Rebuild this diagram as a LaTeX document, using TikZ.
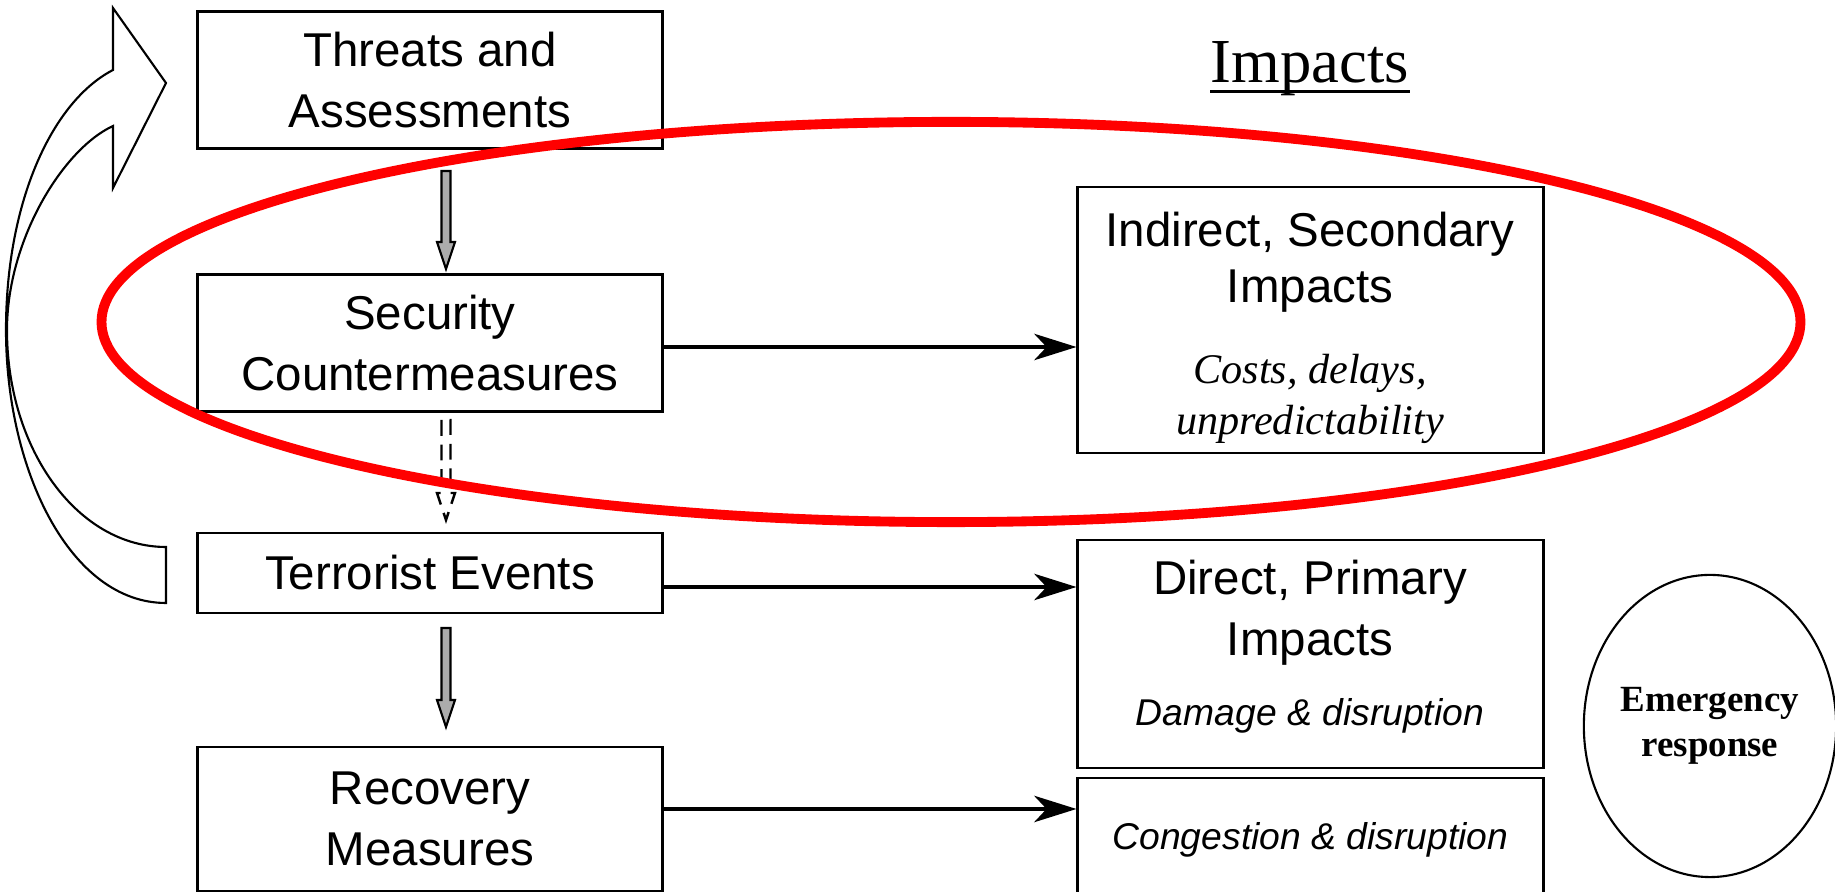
\documentclass[tikz,border=0pt]{standalone}
\usepackage{fontspec}
\setmainfont{Liberation Sans}
\newfontfamily\seriffont{Liberation Serif}
\usetikzlibrary{arrows.meta,calc,shapes.geometric}

% grey block arrow from #2 down to the tip #3
\newcommand{\blockarrow}[3][]{%
  \draw[#1] ($(#2)+(-4.5,0)$) -- ($(#3)+(-4.5,-27)$) -- ($(#3)+(-9,-27)$)
    -- (#3) -- ($(#3)+(9,-27)$) -- ($(#3)+(4.5,-27)$) -- ($(#2)+(4.5,0)$) -- cycle;}

\begin{document}
\begin{tikzpicture}[x=0.01cm,y=-0.01cm,
    box/.style={draw,line width=0.8pt,minimum width=4.64cm,align=center,
      font=\fontsize{13.5}{17.2}\selectfont},
    head/.style={align=center,font=\fontsize{13.5}{16}\selectfont},
    note/.style={align=center,font=\fontsize{10.6}{13}\selectfont\itshape},
    flow/.style={line width=1.1pt,-{Stealth[length=12pt,width=7.5pt,inset=3.5pt]}},
    grey/.style={fill=gray!65,draw,line width=0.6pt}]
  \useasboundingbox (0,0) rectangle (1835,892);
  \clip (0,0) rectangle (1835,892);
  \path
    (430,80) node[box,minimum height=1.37cm] (threats) {Threats and\\Assessments}
    (430,343) node[box,minimum height=1.37cm] (security) {Security\\Countermeasures}
    (430,573) node[box,minimum height=0.8cm] (events) {Terrorist Events}
    (430,819) node[box,minimum height=1.44cm] (recovery) {Recovery\\Measures}
    (1310.5,320) node[box,minimum width=4.65cm,minimum height=2.66cm] (indirect) {}
    (1310.5,654) node[box,minimum width=4.65cm,minimum height=2.28cm] (direct) {}
    (1310.5,840) node[box,minimum width=4.65cm,minimum height=1.24cm,
      font=\fontsize{10.6}{13}\selectfont\itshape] (congestion) {Congestion \& disruption};
  \path
    (1310,262) node[head] (indirecthead) {Indirect, Secondary\\Impacts}
    (1310,399) node[note,font=\seriffont\itshape\fontsize{12}{14.4}\selectfont]
      (indirectnote) {Costs, delays,\\unpredictability}
    (1310,613) node[head,font=\fontsize{13.5}{17.4}\selectfont] (directhead) {Direct, Primary\\Impacts}
    (1310,716) node[note] (directnote) {Damage \& disruption};
  \node[anchor=base,inner sep=0,font=\seriffont\fontsize{17.8}{20}\selectfont]
    (title) at (1310,83) {Impacts};
  \draw[line width=0.85pt] ([yshift=-0.085cm]title.base west) -- ([yshift=-0.085cm]title.base east);
  \node[ellipse,draw,line width=0.6pt,minimum width=2.43cm,minimum height=3.02cm,
    inner sep=0,align=center,font=\seriffont\bfseries\fontsize{10.5}{12.8}\selectfont]
    (emergency) at (1710,726) {Emergency\\response};

  % feedback arrow on the left
  \draw[line width=0.6pt,fill=white] (166,83) -- (113,8) -- (113,70)
    .. controls (53,101) and (6,200) .. (6,330)
    .. controls (6,470) and (70,603) .. (166,603) -- (166,547)
    .. controls (78,547) and (7,450) .. (7,330)
    .. controls (7,240) and (63,149) .. (113,126) -- (113,188) -- cycle;

  \coordinate (threatsout) at (446,171);
  \coordinate (securityin) at (446,269);
  \coordinate (securityout) at (446,420);
  \coordinate (eventsin) at (446,520);
  \coordinate (eventsout) at (446,628);
  \coordinate (recoveryin) at (446,727);
  \blockarrow[grey]{threatsout}{securityin}
  \blockarrow[draw,line width=0.7pt,dash pattern=on 4.5pt off 2.5pt]{securityout}{eventsin}
  \blockarrow[grey]{eventsout}{recoveryin}

  \begin{scope}[flow]
    \draw ([yshift=-0.04cm]security.east) coordinate (s1) -- (s1 -| indirect.west);
    \draw ([yshift=-0.14cm]events.east) coordinate (s2) -- (s2 -| direct.west);
    \draw ([yshift=0.1cm]recovery.east) coordinate (s3) -- (s3 -| congestion.west);
  \end{scope}

  \draw[red,line width=2.8pt] (951,322) ellipse [x radius=8.49cm,y radius=2cm];
\end{tikzpicture}
\end{document}
